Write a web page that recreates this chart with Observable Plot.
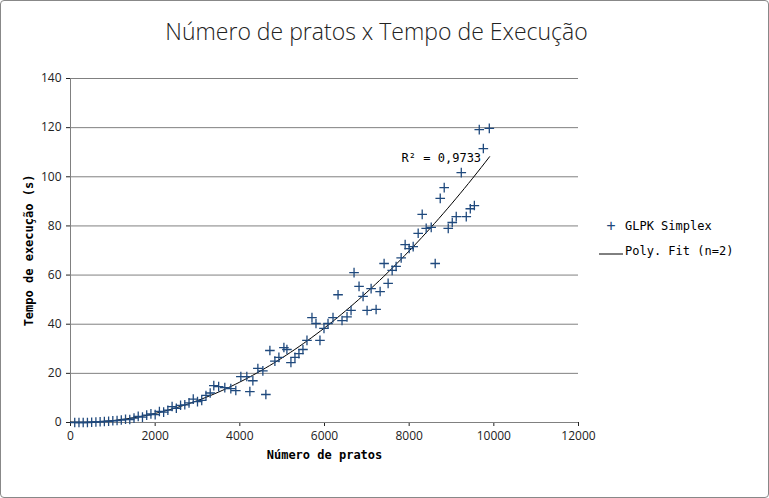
<!DOCTYPE html>
<html><head><meta charset="utf-8">
<script src="https://cdn.jsdelivr.net/npm/d3@7"></script>
<script src="https://cdn.jsdelivr.net/npm/@observablehq/plot@0.6"></script>
<style>
body{margin:0;background:#fff}
#wrap{position:relative;width:767px;height:496px;border:1px solid #888;border-radius:4px;overflow:hidden}
#title{position:absolute;top:14px;left:-8px;width:100%;text-align:center;font:300 23px "Open Sans";color:#222}
#legend{position:absolute;left:596px;top:212px;font:12px "DejaVu Sans Mono";color:#000}
#legend div{height:25px;display:flex;align-items:center}
#legend span{display:inline-block;width:28px;text-align:center;color:#1f497d;font-size:15px}
</style></head><body>
<div id="wrap"><div id="title">Número de pratos x Tempo de Execução</div><div id="chart"></div>
<div id="legend"><div><span>+</span>GLPK Simplex</div><div><span><svg width="24" height="4"><line x1="0" x2="24" y1="2" y2="2" stroke="#000"/></svg></span>Poly. Fit (n=2)</div></div></div>
<script>
const pratos = [100,200,300,400,500,600,700,800,900,1000,1100,1200,1300,1400,1500,1600,1700,1800,1900,2000,2100,2200,2300,2400,2500,2600,2700,2800,2900,3000,3100,3200,3300,
3385,3500,3645,3787,3905,4024,4165,4237,4308,4426,4544,4615,4710,4828,4923,5041,5112,5207,5302,5396,5491,5586,5704,5799,5893,5988,6083,6201,6320,6414,6532,6627,6698,6816,6911,7006,7101,7219,7314,7408,7503,7598,7692,7811,7905,8000,8095,8213,8308,8402,8521,8615,8734,8828,8923,9018,9112,9231,9349,9444,9540,9656,9752,9893];
const tempo = [0,0,0,0,0.1,0.2,0.3,0.4,0.5,0.7,0.8,1,1.3,1.2,1.8,2.5,2.2,3,3.5,3.2,4.5,4.2,5,6.5,5.8,7,7.2,8,9.5,8.5,9,11,12,
15,14.6,14.2,13.8,13,18.7,18.7,12.6,17,22,21,11.4,29.3,25,26.5,30.5,29.7,24.4,26.5,28,29.7,33.4,42.7,40.3,33.4,38.3,40.3,42.7,52,41.5,43,45.6,61,55.4,51.3,45.6,54.5,46,53.3,64.7,56.6,61.9,63.5,67,72.4,70.8,71.6,77,84.7,79,79.4,64.7,91.2,95.6,79,81.4,83.8,101.7,83.8,87,88.3,119.2,111.5,119.7];
const data = pratos.map((x,i)=>({x, y: tempo[i]}));

// least-squares quadratic fit
function polyfit2(xs, ys){
  const S=k=>d3.sum(xs,x=>x**k), T=k=>d3.sum(xs,(x,i)=>x**k*ys[i]);
  const A=[[S(0),S(1),S(2)],[S(1),S(2),S(3)],[S(2),S(3),S(4)]], b=[T(0),T(1),T(2)];
  for(let i=0;i<3;i++){for(let j=i+1;j<3;j++){const f=A[j][i]/A[i][i];for(let k=i;k<3;k++)A[j][k]-=f*A[i][k];b[j]-=f*b[i];}}
  const c=[0,0,0];for(let i=2;i>=0;i--){let s=b[i];for(let k=i+1;k<3;k++)s-=A[i][k]*c[k];c[i]=s/A[i][i];}
  return c;
}
const c = polyfit2(pratos, tempo);
const fit = d3.range(0, 9901, 100).map(x=>({x, y: c[0]+c[1]*x+c[2]*x*x}));

document.getElementById("chart").append(Plot.plot({
  width: 767, height: 496,
  marginLeft: 69, marginRight: 190, marginTop: 77, marginBottom: 75,
  style: {fontFamily: "Open Sans", fontSize: "12px", color: "#222"},
  x: {domain: [0, 12000], ticks: d3.range(0, 12001, 2000), tickFormat: d=>String(d), label: "Número de pratos", labelArrow: "none", labelAnchor: "center", labelOffset: 36, tickSize: 4},
  y: {domain: [0, 140], ticks: d3.range(0, 141, 20), tickFormat: d=>String(d), label: "Tempo de execução (s)", labelArrow: "none", labelAnchor: "center", labelOffset: 46, tickSize: 4},
  marks: [
    Plot.gridY(d3.range(20, 141, 20), {stroke: "#808080", strokeOpacity: 1}),
    Plot.ruleX([0], {stroke: "#808080"}),
    Plot.ruleY([0], {stroke: "#808080"}),
    Plot.line(fit, {x: "x", y: "y", stroke: "#000", strokeWidth: 1}),
    Plot.dot(data, {x: "x", y: "y", symbol: "plus", r: 3.2, stroke: "#1f497d", strokeWidth: 1.3}),
    Plot.text(["R² = 0,9733"], {x: 8760, y: 107.5, text: d=>d, fontFamily: "DejaVu Sans Mono", fontSize: 12, fill: "#000"})
  ]
}));
document.querySelectorAll("#chart svg g[aria-label$='axis label'] text, #chart svg g[aria-label$='axis label']").forEach(e=>{e.setAttribute("font-weight","bold");e.setAttribute("font-family","DejaVu Sans Mono");e.setAttribute("fill","#000");});
</script></body></html>
